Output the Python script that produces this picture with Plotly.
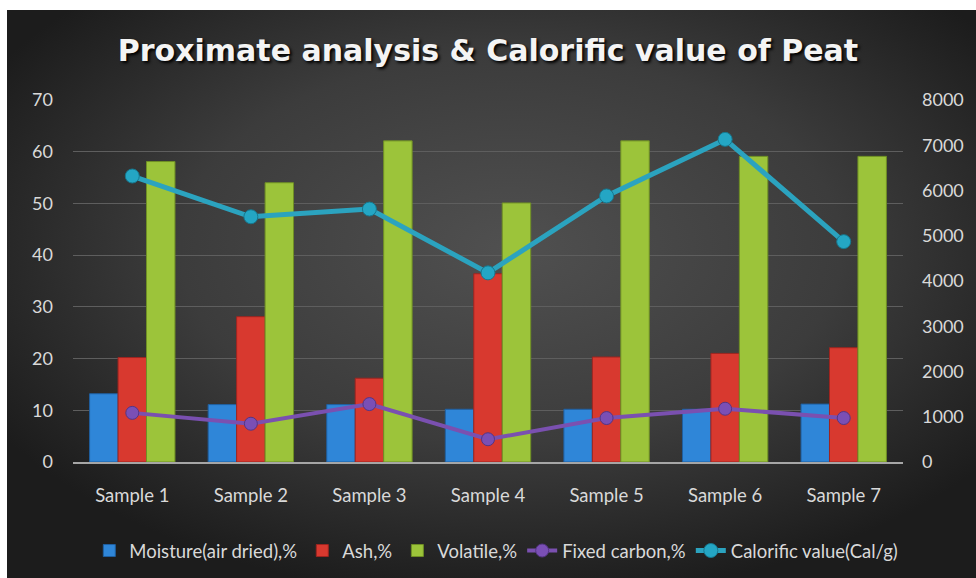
import plotly.graph_objects as go
import urllib.parse

categories = ["Sample 1", "Sample 2", "Sample 3", "Sample 4", "Sample 5", "Sample 6", "Sample 7"]
moisture = [13.2, 11.1, 11.1, 10.2, 10.2, 10.2, 11.2]
ash = [20.2, 28.1, 16.2, 36.4, 20.3, 21.0, 22.1]
volatile = [58.1, 54.0, 62.1, 50.1, 62.1, 59.1, 59.1]
fixed_carbon = [9.5, 7.4, 11.2, 4.4, 8.5, 10.3, 8.5]
calorific = [6320, 5420, 5590, 4180, 5880, 7130, 4870]

left_ticks = [0, 10, 20, 30, 40, 50, 60, 70]
right_ticks = [0, 1000, 2000, 3000, 4000, 5000, 6000, 7000, 8000]

FONT = "Lato"
TXT = "#d9d9d9"

svg = (
    '<svg xmlns="http://www.w3.org/2000/svg" width="969" height="568" viewBox="0 0 969 568" preserveAspectRatio="none">'
    '<defs><radialGradient id="g" cx="0.52" cy="0.42" r="0.62" gradientUnits="objectBoundingBox">'
    '<stop offset="0" stop-color="#505050"/>'
    '<stop offset="0.55" stop-color="#3c3c3c"/>'
    '<stop offset="1" stop-color="#1c1c1c"/>'
    '</radialGradient></defs>'
    '<rect x="0" y="0" width="969" height="568" fill="url(#g)"/></svg>'
)
bg_src = "data:image/svg+xml;charset=utf-8," + urllib.parse.quote(svg)

fig = go.Figure()

fig.add_trace(go.Bar(
    x=categories, y=moisture, name="Moisture(air dried),%",
    marker=dict(color="#2f86d8", line=dict(color="#1f5fa0", width=1)),
))
fig.add_trace(go.Bar(
    x=categories, y=ash, name="Ash,%",
    marker=dict(color="#d8392f", line=dict(color="#9e2520", width=1)),
))
fig.add_trace(go.Bar(
    x=categories, y=volatile, name="Volatile,%",
    marker=dict(color="#9cc43a", line=dict(color="#6f8f25", width=1)),
))
fig.add_trace(go.Scatter(
    x=categories, y=fixed_carbon, name="Fixed carbon,%", mode="lines+markers",
    line=dict(color="#7a50b0", width=4),
    marker=dict(size=13, color="#7a4fb5", line=dict(color="#553585", width=1)),
))
fig.add_trace(go.Scatter(
    x=categories, y=calorific, name="Calorific value(Cal/g)", mode="lines+markers",
    yaxis="y2",
    line=dict(color="#2ba3bf", width=5),
    marker=dict(size=14, color="#24a6c4", line=dict(color="#16788f", width=1)),
))

fig.update_layout(
    width=976, height=578,
    margin=dict(l=73, r=73, t=100, b=116, autoexpand=False),
    paper_bgcolor="white",
    plot_bgcolor="rgba(0,0,0,0)",
    barmode="group", bargap=0.28, bargroupgap=0,
    font=dict(family=FONT, color=TXT, size=17),
    title=dict(
        text="<b>Proximate analysis & Calorific value of Peat</b>",
        x=0.5, xanchor="center", y=0.912, yanchor="middle",
        font=dict(family="DejaVu Sans", size=30, color="#f4f4f4",
                  shadow="2px 2px 3px #000000"),
    ),
    images=[dict(
        source=bg_src, xref="paper", yref="paper",
        x=(7 - 73) / 830, y=(462 - 10) / 362,
        sizex=(976 - 7) / 830, sizey=(578 - 10) / 362,
        xanchor="left", yanchor="top", sizing="stretch", layer="below",
    )],
    xaxis=dict(
        showgrid=False, showline=True, linecolor="#a6a6a6", linewidth=1.5,
        tickfont=dict(size=18.5, color=TXT), ticks="", ticklabelstandoff=16,
        zeroline=False, automargin=False,
    ),
    yaxis=dict(
        range=[0, 70], tickvals=left_ticks, showgrid=True, gridcolor="#5e5e5e",
        gridwidth=1, zeroline=False, showline=False, ticks="",
        tickfont=dict(size=18, color=TXT), ticklabelstandoff=19, automargin=False,
    ),
    yaxis2=dict(
        range=[0, 8000], tickvals=right_ticks, overlaying="y", side="right",
        showgrid=False, zeroline=False, showline=False, ticks="",
        tickfont=dict(size=18, color=TXT), ticklabelstandoff=18, automargin=False,
    ),
    legend=dict(
        orientation="h", x=0.51, xanchor="center",
        y=(462 - 551) / 362, yanchor="middle",
        font=dict(size=18.5, color=TXT), bgcolor="rgba(0,0,0,0)",
        itemwidth=30, tracegroupgap=0, traceorder="normal",
    ),
)

fig.write_html("out.html")
